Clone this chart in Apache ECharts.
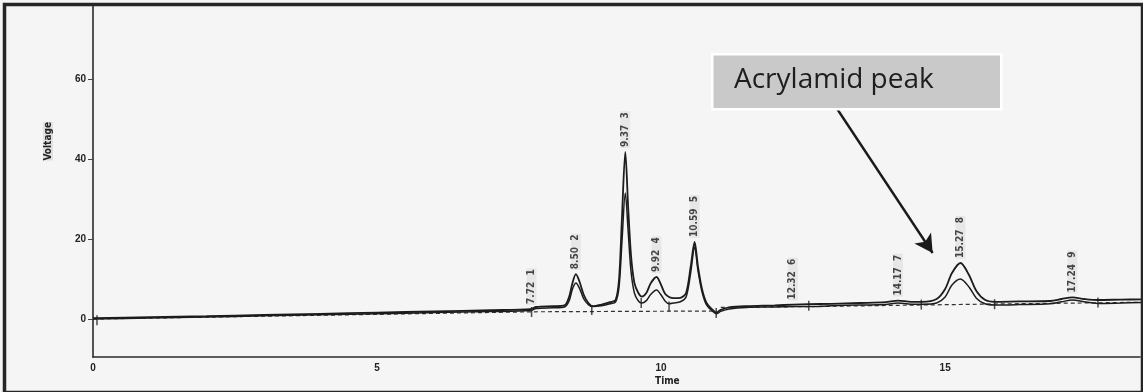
<!DOCTYPE html>
<html>
<head>
<meta charset="utf-8">
<script src="https://cdn.jsdelivr.net/npm/echarts@6/dist/echarts.min.js"></script>
<style>
  html, body { margin: 0; padding: 0; background: #ffffff; }
  #chart { width: 1143px; height: 392px; }
</style>
</head>
<body>
<div id="chart"></div>
<script>
// Chromatogram trace: retention time (min) and detector voltage for the two recorded traces
const traceTime = [0.00, 1.00, 2.00, 3.00, 4.00, 5.00, 6.00, 7.00, 7.70, 7.80, 8.10, 8.30, 8.38, 8.44, 8.50, 8.56, 8.64, 8.72, 8.80, 8.95, 9.10, 9.20, 9.26, 9.31, 9.37, 9.42, 9.47, 9.53, 9.60, 9.66, 9.74, 9.82, 9.92, 10.00, 10.07, 10.14, 10.22, 10.34, 10.44, 10.52, 10.59, 10.65, 10.72, 10.80, 10.90, 10.97, 11.05, 11.20, 11.50, 12.00, 12.32, 12.60, 13.00, 13.50, 13.95, 14.17, 14.40, 14.60, 14.85, 15.00, 15.12, 15.27, 15.42, 15.55, 15.70, 15.87, 16.30, 16.85, 17.05, 17.24, 17.45, 17.69, 18.10, 18.45];
const outerTrace = [0.2, 0.45, 0.7, 1.0, 1.3, 1.6, 1.9, 2.2, 2.45, 3.0, 3.2, 3.4, 5.5, 9.0, 11.2, 9.5, 6.0, 4.0, 3.2, 3.6, 4.2, 4.8, 10, 25, 41.75, 28, 16, 9.0, 6.5, 5.6, 6.5, 9.0, 10.5, 8.5, 6.3, 5.5, 5.2, 5.3, 6.5, 13, 19.25, 13, 7.5, 4.0, 2.4, 1.6, 2.3, 2.9, 3.2, 3.4, 3.6, 3.7, 3.8, 4.0, 4.2, 4.6, 4.3, 4.3, 5.0, 7.5, 11.5, 14.0, 11.0, 7.0, 4.8, 4.3, 4.4, 4.5, 5.0, 5.4, 5.0, 4.75, 4.85, 4.9];
const innerTrace = [0.0, 0.25, 0.5, 0.8, 1.05, 1.3, 1.6, 1.85, 2.1, 2.6, 2.8, 3.0, 4.5, 7.5, 9.0, 7.8, 5.0, 3.6, 3.1, 3.3, 3.8, 4.3, 8, 19, 31.5, 22, 12, 6.5, 4.5, 4.0, 4.6, 6.2, 7.25, 6.0, 4.5, 3.8, 4.0, 4.3, 5.5, 11.5, 18, 12, 6.8, 3.5, 2.0, 1.3, 1.9, 2.5, 2.9, 3.0, 3.1, 3.1, 3.3, 3.5, 3.6, 4.0, 3.7, 3.7, 4.0, 5.5, 8.5, 10.0, 8.0, 5.2, 3.8, 3.5, 3.6, 3.8, 4.3, 4.75, 4.3, 3.9, 4.0, 4.1];

// Integration baseline (dashed), broken after the peak group
const baseTime  = [0.00, 7.72, 10.97, null, 11.05, 12.60, 14.58, 15.87, 17.69, 18.45];
const baseLevel = [0.00, 1.80, 2.00, null, 2.90, 3.10, 3.50, 3.75, 4.05, 4.20];

// Peak integration markers
const markTimes  = [0.07, 7.72, 8.78, 9.65, 10.14, 10.97, 12.60, 14.58, 15.87, 17.69];
const markLevels = [-0.3, 1.75, 2.25, 4.0, 3.1, 1.5, 3.3, 3.6, 3.7, 4.1];

// Peak annotations: retention time, label anchor level, peak number
const peakTimes  = [7.72, 8.50, 9.37, 9.92, 10.59, 12.32, 14.17, 15.27, 17.24];
const peakLevels = [2.5, 11.2, 41.75, 10.5, 19.25, 3.6, 4.6, 14.0, 5.4];
const peakIds    = [1, 2, 3, 4, 5, 6, 7, 8, 9];

// Axis ticks
const timeTicks    = [0, 5, 10, 15];
const voltageTicks = [0, 20, 40, 60];

// Callout arrow: from the note box down to the acrylamide peak
const arrowFrom = [13.1, 52.5];
const arrowTo   = [14.78, 16.5];
const noteText  = 'Acrylamid peak';

const ink = '#1c1c1c';
const smallFont = '"Liberation Sans Narrow", "DejaVu Sans Condensed", "Liberation Sans", sans-serif';

const zip = (xs, ys) => xs.map((x, i) => (x === null ? [null, null] : [x, ys[i]]));

const chart = echarts.init(document.getElementById('chart'), null, { renderer: 'canvas' });

chart.setOption({
  backgroundColor: '#f5f5f5',
  animation: false,
  grid: { left: 93, right: 3, top: 5, bottom: 35 },
  xAxis: {
    type: 'value',
    min: 0,
    max: 18.43,
    splitLine: { show: false },
    axisLine: { show: true, onZero: false, lineStyle: { color: '#2a2a2a', width: 1.6 } },
    axisTick: { show: false },
    axisLabel: {
      customValues: timeTicks,
      margin: 6,
      color: '#222',
      fontSize: 10,
      fontWeight: 'bold',
      fontFamily: 'Liberation Sans, sans-serif'
    }
  },
  yAxis: {
    type: 'value',
    min: -9.5,
    max: 78.5,
    splitLine: { show: false },
    axisLine: { show: true, onZero: false, lineStyle: { color: '#2a2a2a', width: 1.6 } },
    axisTick: { show: true, customValues: voltageTicks, length: 5, lineStyle: { color: '#444', width: 1 } },
    axisLabel: {
      customValues: voltageTicks,
      margin: 7,
      color: '#222',
      fontSize: 10,
      fontWeight: 'bold',
      fontFamily: 'Liberation Sans, sans-serif'
    }
  },
  series: [
    {
      name: 'baseline',
      type: 'line',
      data: zip(baseTime, baseLevel),
      showSymbol: false,
      connectNulls: false,
      lineStyle: { color: '#333', width: 1.2, type: [4, 3] },
      z: 2
    },
    {
      name: 'trace A',
      type: 'line',
      data: zip(traceTime, outerTrace),
      showSymbol: false,
      smooth: 0.3,
      lineStyle: { color: ink, width: 1.8 },
      z: 3,
      markLine: {
        silent: true,
        symbol: ['none', 'arrow'],
        symbolSize: [15, 18],
        label: { show: false },
        lineStyle: { color: '#1a1a1a', width: 2.4, type: 'solid' },
        data: [[{ coord: arrowFrom }, { coord: arrowTo }]]
      }
    },
    {
      name: 'trace B',
      type: 'line',
      data: zip(traceTime, innerTrace),
      showSymbol: false,
      smooth: 0.3,
      lineStyle: { color: ink, width: 1.5 },
      z: 3
    },
    {
      name: 'markers',
      type: 'scatter',
      data: zip(markTimes, markLevels),
      symbol: 'rect',
      symbolSize: [1.5, 10],
      itemStyle: { color: '#222' },
      z: 4
    },
    {
      name: 'peaks',
      type: 'scatter',
      data: peakTimes.map((t, i) => [t, peakLevels[i], peakIds[i]]),
      symbolSize: 0,
      z: 5,
      label: {
        show: true,
        position: 'top',
        distance: 4,
        rotate: 90,
        align: 'left',
        verticalAlign: 'middle',
        formatter: p => `${p.value[0].toFixed(2)}  ${p.value[2]}`,
        color: '#1a1a1a',
        fontSize: 10,
        fontWeight: 'bold',
        fontFamily: smallFont,
        backgroundColor: 'rgba(0,0,0,0.07)',
        padding: [0, 1]
      }
    }
  ],
  graphic: [
    {
      type: 'text',
      left: 43, top: 122,
      rotation: Math.PI / 2,
      style: {
        text: 'Voltage',
        fill: '#222',
        font: 'bold 10px ' + smallFont,
        backgroundColor: 'rgba(0,0,0,0.08)'
      }
    },
    {
      type: 'text',
      left: 655, top: 376,
      style: { text: 'Time', fill: '#222', font: 'bold 10px ' + smallFont }
    },
    {
      type: 'rect',
      left: 711, top: 53,
      shape: { width: 289, height: 55 },
      style: { fill: '#c9c9c9', stroke: '#ffffff', lineWidth: 2.5 },
      z: 10
    },
    {
      type: 'text',
      left: 734, top: 66,
      style: { text: noteText, fill: '#1e1e1e', font: '28px "Open Sans", sans-serif' },
      z: 11
    },
    {
      type: 'rect',
      left: 2, top: 2,
      shape: { width: 1138, height: 388 },
      style: { fill: 'none', stroke: '#262626', lineWidth: 3.5 },
      z: 20
    }
  ]
});
</script>
</body>
</html>
